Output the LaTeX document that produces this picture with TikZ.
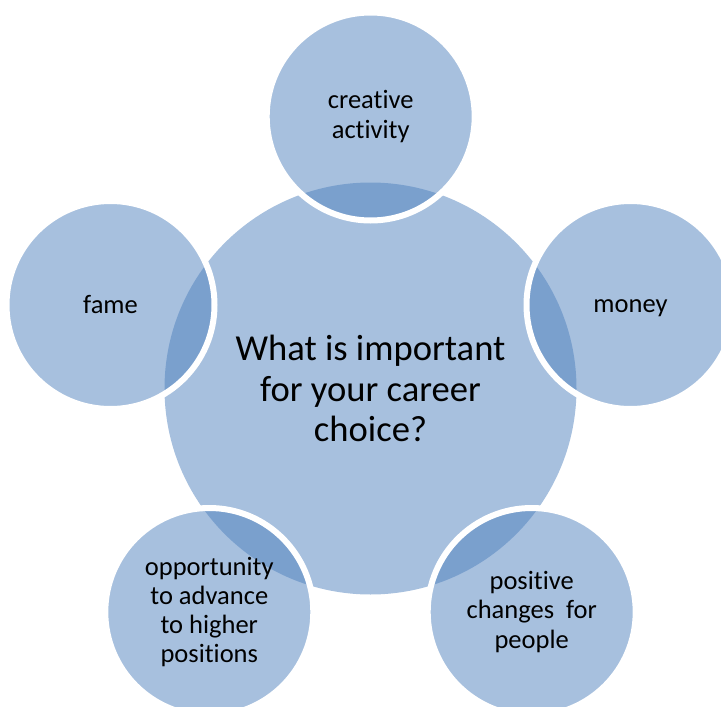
\documentclass[tikz,border=0pt]{standalone}
\usepackage{fontspec}
\setmainfont{Carlito}[Ligatures={NoCommon,NoRare,NoContextual},RawFeature={-liga;-clig;-dlig;-calt}]
\definecolor{officeblue}{HTML}{4F81BD}
\tikzset{
  hub/.style={circle, minimum size=412pt, inner sep=0pt, fill=officeblue, fill opacity=0.5, text opacity=1, text=black, align=center, font=\fontsize{36.6}{40.5}\selectfont},
  petal/.style={circle, minimum size=208pt, inner sep=0pt, fill=officeblue, fill opacity=0.5, draw=white, draw opacity=1, line width=6pt, text opacity=1, text=black, align=center, font=\fontsize{26.5}{29.3}\selectfont},
  petaltext/.style={font=\fontsize{26.5}{29.3}\selectfont, inner sep=0pt, anchor=base}
}
\begin{document}
\begin{tikzpicture}[x=1pt,y=-1pt]
\useasboundingbox (0,0) rectangle (721,707);
\node[hub] (center) at (370.5,388.5) {What is important\\for your career\\choice?};
\node[petal] (creative) at (370.7,116.5) {creative\\activity};
\node[petal] (money) at (630.5,305) {};
\node[petaltext] (moneytext) at (630.5,312) {money};
\node[petal] (positive) at (531.7,612) {positive\\changes\ \ for\\people};
\node[petal] (opportunity) at (209.3,612) {opportunity\\to advance\\to higher\\positions};
\node[petal] (fame) at (110.5,305) {};
\node[petaltext] (fametext) at (110.5,313) {fame};
\end{tikzpicture}
\end{document}
